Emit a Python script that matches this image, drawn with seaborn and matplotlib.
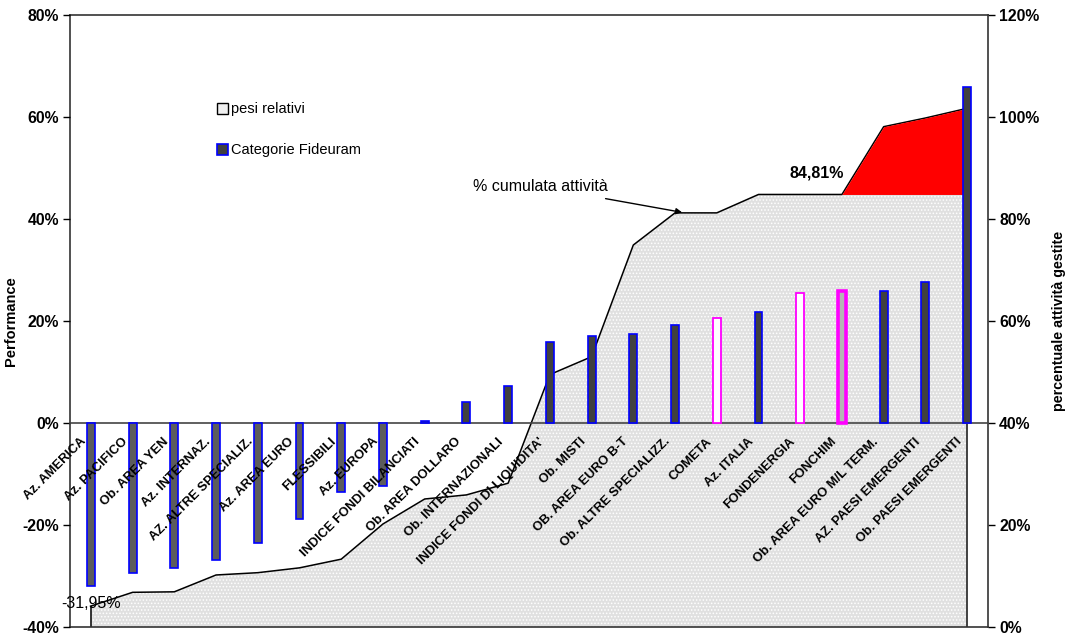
import numpy as np
import pandas as pd
import matplotlib
matplotlib.use("Agg")
import matplotlib.pyplot as plt
from matplotlib.patches import Patch
from matplotlib.ticker import FuncFormatter, MultipleLocator
import seaborn as sns

# categorie (ordinate per performance)
categorie = ["Az. AMERICA", "Az. PACIFICO", "Ob. AREA YEN", "Az. INTERNAZ.",
             "AZ. ALTRE SPECIALIZ.", "Az. AREA EURO", "FLESSIBILI", "Az. EUROPA",
             "INDICE FONDI BILANCIATI", "Ob. AREA DOLLARO", "Ob. INTERNAZIONALI",
             "INDICE FONDI DI LIQUIDITA'", "Ob. MISTI", "OB. AREA EURO B-T",
             "Ob. ALTRE SPECIALIZZ.", "COMETA", "Az. ITALIA", "FONDENERGIA",
             "FONCHIM", "Ob. AREA EURO M/L TERM.", "AZ. PAESI EMERGENTI",
             "Ob. PAESI EMERGENTI"]

# performance (%), asse sinistro
performance = [-31.95, -29.4, -28.4, -26.9, -23.6, -18.9, -13.5, -12.4,
               0.45, 4.05, 7.3, 15.9, 17.05, 17.45, 19.2, 20.6, 21.7,
               25.5, 25.9, 25.95, 27.6, 65.9]

# % cumulata attivita' gestite, asse destro
cumulata = [4.1, 6.8, 6.9, 10.2, 10.65, 11.6, 13.3, 20.2, 25.1, 25.9, 28.2,
            49.5, 53.0, 74.9, 81.2, 81.2, 84.81, 84.81, 84.81, 98.1, 99.8, 101.7]

soglia = 84.81

# fondi pensione evidenziati
fondi_vuoti = ["COMETA", "FONDENERGIA"]
fondo_pieno = "FONCHIM"

sns.set_style("white")
plt.rcParams["font.family"] = ["Liberation Sans", "DejaVu Sans"]
plt.rcParams["hatch.color"] = "#bdbdbd"
plt.rcParams["hatch.linewidth"] = 0.7
for k in ("text.color", "axes.labelcolor", "xtick.color", "ytick.color"):
    plt.rcParams[k] = "black"

df = pd.DataFrame({"categoria": categorie, "performance": performance,
                   "cumulata": cumulata})
pos = np.arange(len(categorie))

fig = plt.figure(figsize=(10.65, 6.37), dpi=100)
ax = fig.add_axes([70 / 1065, 10 / 637, 918 / 1065, 612 / 637])
ax2 = ax.twinx()
ax.set_zorder(ax2.get_zorder() + 1)
ax.patch.set_visible(False)

# area cumulata (asse destro)
cum = np.array(cumulata)
ax2.fill_between(pos, 0, np.minimum(cum, soglia), facecolor="#e0e0e0",
                 hatch=".....", edgecolor="none", linewidth=0, zorder=1)
ax2.fill_between(pos[pos >= 18], soglia, cum[pos >= 18], color="red",
                 linewidth=0, zorder=3)
ax2.plot(pos, cum, color="black", lw=1.1, zorder=2)
ax2.vlines([pos[0]], 0, cum[0], color="black", lw=1.1, zorder=2)
ax2.vlines([pos[-1]], 0, soglia, color="#333333", lw=1.3, zorder=2)

# barre performance
sns.barplot(data=df, x="categoria", y="performance", ax=ax, width=0.19,
            color="#404040", saturation=1, zorder=3)
for p, cat, val in zip(ax.patches, categorie, performance):
    if cat in fondi_vuoti:
        p.set_facecolor("white")
        p.set_edgecolor("#ff00ff")
        p.set_linewidth(1.3)
    elif cat == fondo_pieno:
        p.set_facecolor("#b5b5b5")
        p.set_edgecolor("#ff00ff")
        p.set_linewidth(2.6)
    else:
        p.set_facecolor("#5c5c5c" if val < 0 else "#404040")
        p.set_edgecolor("#0000ff")
        p.set_linewidth(1.2)

ax.set_xlim(-0.5, len(categorie) - 0.5)
ax.set_ylim(-40, 80)
ax2.set_ylim(0, 120)

pct = FuncFormatter(lambda v, _: f"{v:.0f}%")
ax.yaxis.set_major_locator(MultipleLocator(20))
ax.yaxis.set_major_formatter(pct)
ax2.yaxis.set_major_locator(MultipleLocator(20))
ax2.yaxis.set_major_formatter(pct)

# asse x sullo zero, tacche tra le categorie
ax.spines["bottom"].set_position(("data", 0))
ax.set_xticks(pos[:-1] + 0.5)
ax.set_xticklabels([])
ax.tick_params(axis="x", direction="inout", length=8, width=1, color="#333333")
ax.set_xlabel("")
for i, cat in enumerate(categorie):
    ax.text(i - 0.17, -3.3, cat, rotation=45, rotation_mode="anchor",
            ha="right", va="center", fontsize=9.3, fontweight="bold", zorder=4)

for a in (ax, ax2):
    for s in a.spines.values():
        s.set_linewidth(1.2)
        s.set_color("#333333")
ax.spines["bottom"].set_color("#444444")
ax.spines["top"].set_visible(False)
ax.spines["right"].set_visible(False)
ax.spines["left"].set_visible(False)

ax.tick_params(axis="y", direction="out", length=5, width=1, pad=3,
               labelsize=11.3)
ax2.tick_params(axis="y", direction="out", length=5, width=1, pad=3,
                labelsize=11.3)
for lab in ax.get_yticklabels() + ax2.get_yticklabels():
    lab.set_fontweight("bold")

ax.set_ylabel("Performance", fontsize=10.5, fontweight="bold")
ax.yaxis.set_label_coords(-0.0566, 0.5)
ax2.set_ylabel("percentuale attività gestite", fontsize=10.3,
               fontweight="bold")
ax2.yaxis.set_label_coords(1.0697, 0.5)

# etichette
ax.text(0, performance[0] - 3.35, f"{performance[0]:.2f}".replace(".", ",") + "%",
        ha="center", va="center", fontsize=11.5, zorder=5)
ax2.text(17.4, soglia + 4.3, f"{soglia:.2f}".replace(".", ",") + "%",
         ha="center", va="center", fontsize=11.5, fontweight="bold", zorder=5)
ax2.annotate("% cumulata attività", xy=(14.17, 81.3), xytext=(9.15, 86.3),
             ha="left", va="center", fontsize=11.5, zorder=5,
             arrowprops=dict(arrowstyle="-|>", color="black", lw=1,
                             mutation_scale=9, shrinkA=4, shrinkB=0))

handles = [Patch(facecolor="#f0f0f0", edgecolor="black", lw=1),
           Patch(facecolor="#404040", edgecolor="#0000ff", lw=1.2)]
fig.legend(handles, ["pesi relativi", "Categorie Fideuram"], loc="upper left",
           bbox_to_anchor=(210 / 1065, 1 - 95 / 637), frameon=False,
           fontsize=10.5, handlelength=0.75, handleheight=0.75,
           handletextpad=0.2, labelspacing=1.85, borderpad=0)

fig.savefig("out.png", dpi=100)
